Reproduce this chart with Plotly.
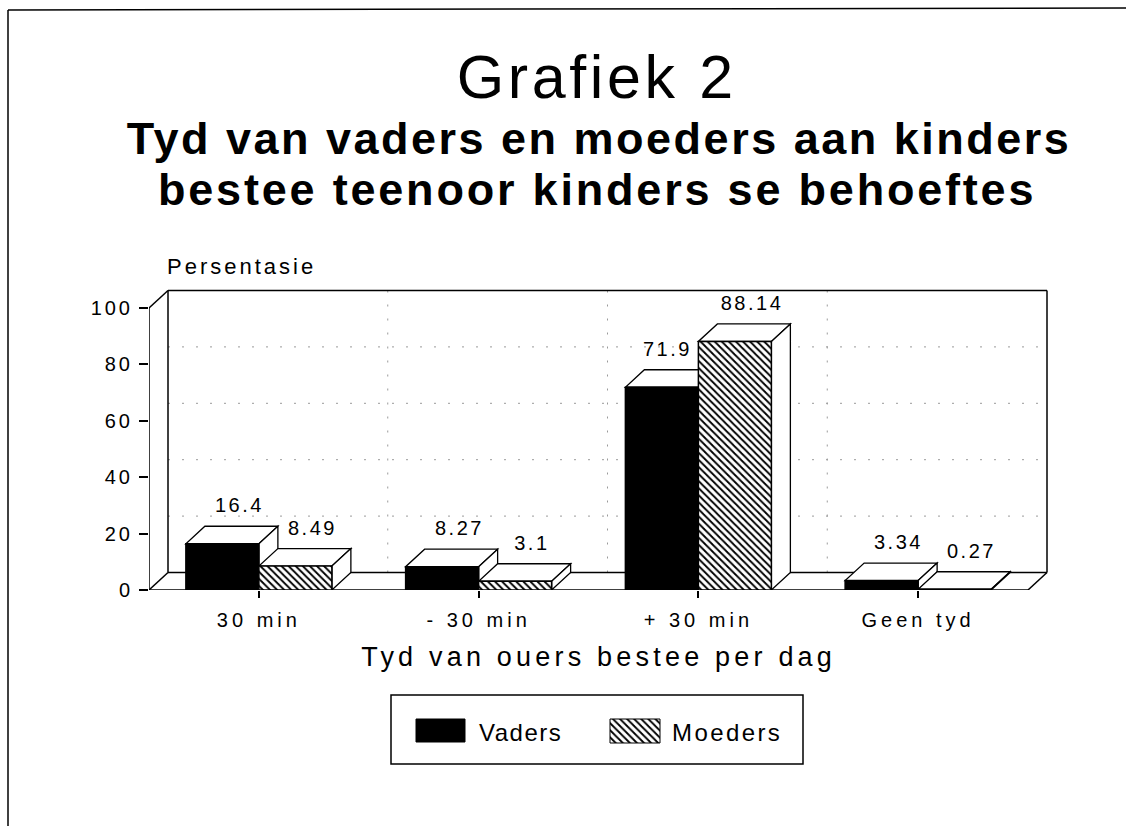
import json
import plotly.graph_objects as go

# ---------------- data ----------------
categories = ["30 min", "- 30 min", "+ 30 min", "Geen tyd"]
vaders = [16.4, 8.27, 71.9, 3.34]
moeders = [8.49, 3.1, 88.14, 0.27]
y_ticks = [0, 20, 40, 60, 80, 100]
series_names = ["Vaders", "Moeders"]
y_label = "Persentasie"
x_title = "Tyd van ouers bestee per dag"
title_main = "Grafiek 2"
title_sub = ["Tyd van vaders en moeders aan kinders",
             "bestee teenoor kinders se behoeftes"]

# ---------------- layout geometry ----------------
W_FIG, H_FIG = 1126, 826
PL, PR, PT, PB = 149, 1056, 285, 590      # plot rectangle in pixels
CAT_PX = 219.75                            # pixels per category
UNIT_PX = 2.82                             # pixels per percent
x_range = [-0.5, -0.5 + (PR - PL) / CAT_PX]
y_range = [0, (PB - PT) / UNIT_PX]
DX = 19 / CAT_PX                           # depth offset (data units)
DY = 17.5 / UNIT_PX
BW = 73 / CAT_PX                           # bar width
n = len(categories)
idx = list(range(n))
FONT = "Liberation Sans, Arial, Helvetica, sans-serif"


def pxx(v):
    return v / W_FIG


def pxy(v):
    return 1 - v / H_FIG


def seg(x0, y0, x1, y1, width=1.5, color="black", dash=None):
    ln = dict(color=color, width=width)
    if dash:
        ln["dash"] = dash
    return dict(type="line", xref="x", yref="y", x0=x0, y0=y0, x1=x1, y1=y1,
                layer="below", line=ln)


def poly(pts):
    path = "M " + " L ".join(f"{x},{y}" for x, y in pts) + " Z"
    return dict(type="path", xref="x", yref="y", path=path, layer="below",
                fillcolor="white", line=dict(color="black", width=1.3))


top = y_ticks[-1]
x0, x1 = -0.5, n - 0.5
shapes = []
# dotted grid on back wall
for v in y_ticks[1:-1]:
    shapes.append(seg(x0 + DX, v + DY, x1 + DX, v + DY, width=1, color="#9a9a9a", dash="2px,12px"))
for i in range(1, n):
    shapes.append(seg(i - 0.5 + DX, DY, i - 0.5 + DX, top + DY, width=1, color="#9a9a9a", dash="2px,12px"))
# walls and floor
shapes += [
    seg(x0, 0, x0, top),
    seg(x0, top, x0 + DX, top + DY),
    seg(x0, 0, x0 + DX, DY),
    seg(x0 + DX, DY, x0 + DX, top + DY),
    seg(x0 + DX, top + DY, x1 + DX, top + DY),
    seg(x1 + DX, DY, x1 + DX, top + DY),
    seg(x0 + DX, DY, x1 + DX, DY),
    seg(x0, 0, x1, 0),
    seg(x1, 0, x1 + DX, DY),
]
# 3D top and side faces of the bars
for i in idx:
    for vals, off in ((vaders, -BW), (moeders, 0.0)):
        v = vals[i]
        xl = i + off
        xr = xl + BW
        shapes.append(poly([(xl, v), (xr, v), (xr + DX, v + DY), (xl + DX, v + DY)]))
        shapes.append(poly([(xr, 0), (xr, v), (xr + DX, v + DY), (xr + DX, DY)]))

# page frame and legend box
shapes.append(dict(type="line", xref="paper", yref="paper", x0=pxx(8), y0=pxy(10),
                   x1=pxx(W_FIG), y1=pxy(8), line=dict(color="black", width=1.5), layer="above"))
shapes.append(dict(type="line", xref="paper", yref="paper", x0=pxx(8), y0=pxy(10),
                   x1=pxx(8), y1=pxy(H_FIG), line=dict(color="black", width=1.5), layer="above"))
shapes.append(dict(type="rect", xref="paper", yref="paper", x0=pxx(391), y0=pxy(764),
                   x1=pxx(803), y1=pxy(695), line=dict(color="black", width=1.5), layer="above"))

hatch = dict(shape="\\", size=5, solidity=0.38, fgcolor="black", bgcolor="white", fillmode="replace")

fig = go.Figure()
fig.add_trace(go.Bar(x=idx, y=vaders, width=BW, offset=-BW, name=series_names[0],
                     marker=dict(color="black", line=dict(color="black", width=1.5)),
                     showlegend=False, hoverinfo="skip"))
fig.add_trace(go.Bar(x=idx, y=moeders, width=BW, offset=0, name=series_names[1],
                     marker=dict(color="white", pattern=hatch, line=dict(color="black", width=1.5)),
                     showlegend=False, hoverinfo="skip"))
# legend swatches (own small axes)
fig.add_trace(go.Bar(x=[49.5], y=[23], base=[22], width=[49], xaxis="x2", yaxis="y2",
                     marker=dict(color="black", line=dict(color="black", width=1)),
                     showlegend=False, hoverinfo="skip"))
fig.add_trace(go.Bar(x=[244], y=[24], base=[21], width=[50], xaxis="x2", yaxis="y2",
                     marker=dict(color="white", pattern=hatch, line=dict(color="black", width=1)),
                     showlegend=False, hoverinfo="skip"))

ann = []
spacing = []


def add_text(text, x, y, size, ls, xanchor="center", yanchor="middle", bold=False,
             xref="paper", yref="paper", xshift=0, yshift=0, align="center"):
    ann.append(dict(text=text, x=x, y=y, xref=xref, yref=yref, xanchor=xanchor,
                    yanchor=yanchor, showarrow=False, xshift=xshift, yshift=yshift, align=align,
                    font=dict(family=FONT, size=size, color="black", weight=700 if bold else 400)))
    spacing.append(ls)


add_text(title_main, pxx(597), pxy(77), 61, 3.6)
add_text(title_sub[0], pxx(599), pxy(139), 45, 2.5, bold=True)
add_text(title_sub[1], pxx(597), pxy(190), 45, 2.8, bold=True)
add_text(y_label, pxx(165), pxy(267), 22, 3.0, xanchor="left", align="left")
add_text(x_title, pxx(598), pxy(657), 27, 4.2)
add_text(series_names[0], pxx(477), pxy(732), 24, 1.5, xanchor="left", align="left")
add_text(series_names[1], pxx(670), pxy(732), 24, 2.4, xanchor="left", align="left")

for i in idx:
    for s, (vals, off) in enumerate(((vaders, -BW), (moeders, 0.0))):
        v = vals[i]
        xl = i + off
        label = f"{v:g}"
        if s == 0 and vaders[i] < moeders[i]:
            add_text(label, xl + BW, v + DY, 20, 2.5, xanchor="right", yanchor="bottom",
                     xref="x", yref="y", xshift=-4, yshift=8, align="right")
        else:
            add_text(label, xl + BW / 2 + DX * 0.9, v + DY, 20, 2.5, yanchor="bottom",
                     xref="x", yref="y", yshift=8)

fig.update_layout(
    width=W_FIG, height=H_FIG, autosize=False,
    margin=dict(l=0, r=0, t=0, b=0),
    paper_bgcolor="white", plot_bgcolor="white",
    barmode="overlay", showlegend=False,
    font=dict(family=FONT, color="black"),
    shapes=shapes, annotations=ann,
    xaxis=dict(domain=[PL / W_FIG, PR / W_FIG], range=x_range, tickvals=idx, ticktext=categories,
               ticks="outside", ticklen=7, tickwidth=1.5, tickcolor="black",
               showline=False, showgrid=False, zeroline=False, automargin=False,
               tickfont=dict(size=20, family=FONT, color="black"), ticklabelstandoff=5),
    yaxis=dict(domain=[1 - PB / H_FIG, 1 - PT / H_FIG], range=y_range, tickvals=y_ticks,
               ticks="outside", ticklen=9, tickwidth=1.5, tickcolor="black",
               showline=False, showgrid=False, zeroline=False, automargin=False,
               tickfont=dict(size=20, family=FONT, color="black"), ticklabelstandoff=2),
    xaxis2=dict(domain=[391 / W_FIG, 803 / W_FIG], range=[0, 412], visible=False, fixedrange=True),
    yaxis2=dict(domain=[1 - 764 / H_FIG, 1 - 695 / H_FIG], range=[0, 69], visible=False, fixedrange=True),
)

post_js = """
document.body.style.margin = '0';
document.body.style.overflow = 'hidden';
var gd = document.getElementById('{plot_id}');
var sp = SPACING;
function applyLS(){
  gd.querySelectorAll('.annotation-text').forEach(function(t, i){
    if (i < sp.length) { t.style.letterSpacing = sp[i] + 'px'; }
  });
  gd.querySelectorAll('.xtick text').forEach(function(t){ t.style.letterSpacing = '4px'; });
  gd.querySelectorAll('.ytick text').forEach(function(t){ t.style.letterSpacing = '3px'; });
}
applyLS();
gd.on('plotly_afterplot', applyLS);
""".replace("SPACING", json.dumps(spacing))

fig.write_html("out.html", post_script=post_js, config={"displayModeBar": False})
